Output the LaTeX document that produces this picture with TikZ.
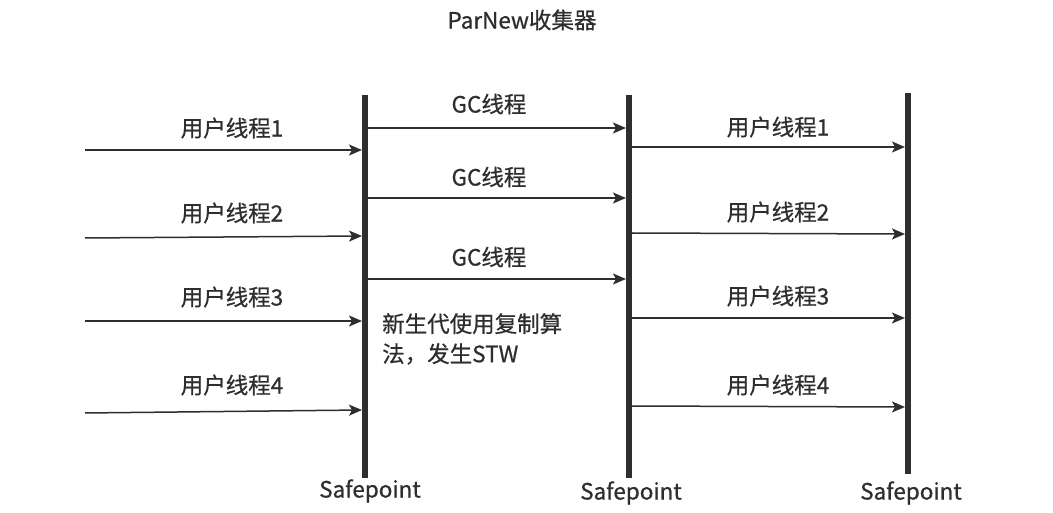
\documentclass[tikz,border=0pt]{standalone}
\usepackage{fontspec}
\setmainfont{Noto Sans CJK SC}[UprightFeatures={FakeBold=0.7}]
\usetikzlibrary{arrows.meta}
\definecolor{ink}{HTML}{2E2E2E}
\begin{document}
\begin{tikzpicture}[x=1pt,y=-1pt,
  bar/.style={line width=5.5pt,ink},
  flow/.style={line width=1.5pt,ink,-{Stealth[length=13pt,width=11pt,inset=3pt]}},
  lbl/.style={font=\fontsize{22.5}{26}\selectfont,text=ink,inner sep=0pt},
  sp/.style={font=\fontsize{22.5}{26}\selectfont,text=ink,inner sep=0pt}]
\useasboundingbox (0,0) rectangle (1053,513);
\node[lbl] (title) at (522,20) {ParNew收集器};
% safepoint bars
\coordinate (b1t) at (365,95); \coordinate (b1b) at (365,478);
\coordinate (b2t) at (629,95); \coordinate (b2b) at (629,478);
\coordinate (b3t) at (908,93); \coordinate (b3b) at (908,474);
\draw[bar] (b1t) -- (b1b);
\draw[bar] (b2t) -- (b2b);
\draw[bar] (b3t) -- (b3b);
\node[sp] (s1) at (370,491) {Safepoint};
\node[sp] (s2) at (631,493) {Safepoint};
\node[sp] (s3) at (911,493) {Safepoint};
% left user threads
\coordinate (l1a) at (85,150); \coordinate (l1b) at (362,150);
\coordinate (l2a) at (85,238); \coordinate (l2b) at (362,236);
\coordinate (l3a) at (85,321); \coordinate (l3b) at (362,321);
\coordinate (l4a) at (85,413); \coordinate (l4b) at (362,410);
\draw[flow] (l1a) -- (l1b);
\draw[flow] (l2a) -- (l2b);
\draw[flow] (l3a) -- (l3b);
\draw[flow] (l4a) -- (l4b);
\node[lbl] (u1) at (232,128) {用户线程1};
\node[lbl] (u2) at (232,213) {用户线程2};
\node[lbl] (u3) at (232,297) {用户线程3};
\node[lbl] (u4) at (232,385) {用户线程4};
% GC threads
\coordinate (g1a) at (368,128); \coordinate (g1b) at (626,128);
\coordinate (g2a) at (368,198); \coordinate (g2b) at (626,198);
\coordinate (g3a) at (368,279); \coordinate (g3b) at (626,279);
\draw[flow] (g1a) -- (g1b);
\draw[flow] (g2a) -- (g2b);
\draw[flow] (g3a) -- (g3b);
\node[lbl] (gc1) at (489,104) {GC线程};
\node[lbl] (gc2) at (489,177) {GC线程};
\node[lbl] (gc3) at (489,257) {GC线程};
% note
\node[lbl,anchor=north west,align=left,font=\fontsize{22.5}{30}\selectfont] (note) at (382,313) {新生代使用复制算\\法，发生STW};
% right user threads
\coordinate (r1a) at (632,147); \coordinate (r1b) at (905,147);
\coordinate (r2a) at (632,233); \coordinate (r2b) at (905,234);
\coordinate (r3a) at (632,318); \coordinate (r3b) at (905,318);
\coordinate (r4a) at (632,406); \coordinate (r4b) at (905,407);
\draw[flow] (r1a) -- (r1b);
\draw[flow] (r2a) -- (r2b);
\draw[flow] (r3a) -- (r3b);
\draw[flow] (r4a) -- (r4b);
\node[lbl] (v1) at (778,127) {用户线程1};
\node[lbl] (v2) at (778,212) {用户线程2};
\node[lbl] (v3) at (778,296) {用户线程3};
\node[lbl] (v4) at (778,385) {用户线程4};
\end{tikzpicture}
\end{document}
